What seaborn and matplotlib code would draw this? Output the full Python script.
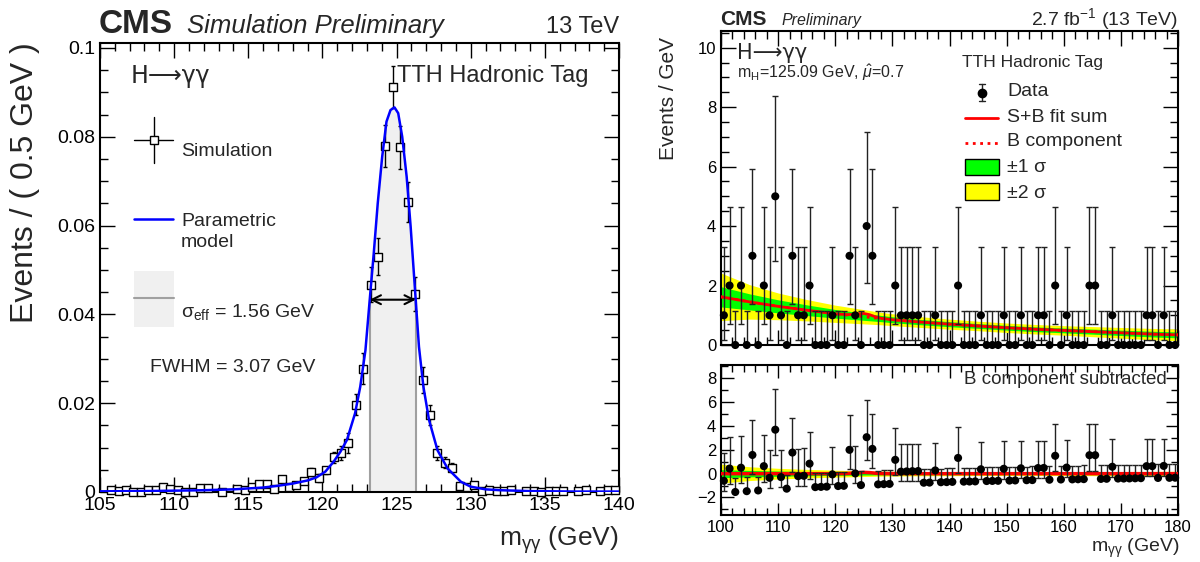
import numpy as np
import matplotlib
matplotlib.use('Agg')
import matplotlib.pyplot as plt
import seaborn as sns
from matplotlib.lines import Line2D
from matplotlib.patches import Rectangle

# ---------------- left: simulated signal shape (0.5 GeV bins) ----------------
sim_mass = np.arange(105.25, 140.0, 0.5)
sim_events = [np.nan, .0004, .0002, .0005, .0001, .0001, .0004, .0005, .0012, .0006,
              .0005, .0001, .0001, .0010, .0008, np.nan, .0000, np.nan, .0007, .0005,
              .0011, .0018, .0017, .0006, .0030, .0011, .0016, .0024, .0045, .0032,
              .0049, .0078, .0088, .0110, .0197, .0278, .0467, .0530, .0779, .0912,
              .0776, .0654, .0446, .0252, .0173, .0087, .0066, .0055, .0013, .0011,
              .0015, .0002, .0005, .0002, .0002, .0004, np.nan, .0002, .0002, .0000,
              .0002, .0002, .0002, np.nan, .0002, .0004, np.nan, .0002, .0004, .0004]
sim_err = [np.nan, .0003, .0002, .0003, .0002, .0002, .0003, .0003, .0005, .0003,
           .0003, .0002, .0002, .0004, .0004, np.nan, .0002, np.nan, .0004, .0003,
           .0004, .0005, .0005, .0003, .0006, .0004, .0005, .0006, .0008, .0009,
           .0008, .0012, .0015, .0023, .0023, .0034, .0040, .0041, .0047, .0048,
           .0048, .0045, .0039, .0030, .0022, .0016, .0012, .0010, .0005, .0004,
           .0005, .0002, .0003, .0002, .0002, .0003, np.nan, .0002, .0002, .0002,
           .0002, .0002, .0002, np.nan, .0002, .0003, np.nan, .0002, .0003, .0003]

# parametric model
model_mass = [105, 108, 110, 112, 114, 115, 116, 117, 118, 119, 119.6, 120.2, 120.75,
              121.2, 121.65, 122.2, 122.55, 122.9, 123.19, 123.46, 123.73, 124.03,
              124.32, 124.59, 124.86, 125.11, 125.38, 125.68, 125.95, 126.29, 126.51,
              126.81, 127.19, 127.76, 128.44, 129.34, 130.0, 131, 132, 134, 137, 140]
model_pdf = [0.00015, 0.0002, 0.0003, 0.0004, 0.0006, 0.0008, 0.0010, 0.0014, 0.0019,
             0.0026, 0.0033, 0.0046, 0.0068, 0.0090, 0.0117, 0.0177, 0.0237, 0.0319,
             0.0433, 0.0537, 0.0650, 0.0755, 0.0834, 0.0860, 0.0866, 0.0853, 0.0800,
             0.0710, 0.0597, 0.0433, 0.0327, 0.0237, 0.0162, 0.0094, 0.0053, 0.0023,
             0.0012, 0.0006, 0.0004, 0.0002, 0.0001, 0.0001]
seff_lo, seff_hi = 123.19, 126.29
half_max = 0.0433

# ---------------- right: data, 1 GeV bins ----------------
data_mass = np.arange(100.5, 180.0, 1.0)
data_counts = [1, 2, 0, 2, 0, 3, 0, 2, 1, 5,
               1, 0, 3, 1, 1, 2, 0, 0, 0, 1,
               0, 0, 3, 1, 0, 4, 3, 0, 0, 0,
               2, 1, 1, 1, 1, 0, 0, 1, 0, 0,
               0, 2, 0, 0, 0, 1, 0, 0, 0, 1,
               0, 0, 1, 0, 0, 1, 1, 0, 2, 0,
               1, 0, 0, 0, 2, 2, 0, 0, 1, 0,
               0, 0, 0, 0, 1, 1, 0, 1, 0, 0]
# data minus B component, read from the lower pad
data_minus_b = [-0.60, 0.43, -1.54, 0.50, -1.47, 1.57, -1.41, 0.63, -0.35, 3.69,
                -0.29, -1.26, 1.77, -0.21, -0.18, 0.84, -1.13, -1.11, -1.09, -0.06,
                -1.04, -1.02, 2.00, 0.02, -0.96, 3.06, 2.08, -0.90, -0.88, -0.86,
                1.16, 0.17, 0.19, 0.21, 0.22, -0.76, -0.75, 0.27, -0.72, -0.71,
                -0.69, 1.32, -0.67, -0.66, -0.65, 0.37, -0.62, -0.61, -0.60, 0.41,
                -0.58, -0.57, 0.45, -0.55, -0.54, 0.47, 0.48, -0.51, 1.50, -0.49,
                0.51, -0.48, -0.47, -0.46, 1.55, 1.55, -0.44, -0.43, 0.58, -0.41,
                -0.41, -0.40, -0.39, -0.38, 0.63, 0.63, -0.36, 0.65, -0.35, -0.34]
# Poisson interval edges for n = 0..5 (as drawn)
pois_lo = [0.0, 0.173, 0.708, 1.367, 2.086, 2.840]
pois_hi = [1.148, 3.300, 4.638, 5.918, 7.163, 8.382]

fit_mass = [100, 105, 110, 115, 120, 122, 123, 124, 125, 126, 127, 128, 130,
            135, 140, 145, 150, 155, 160, 165, 170, 175, 180]
bkg_fit = [1.62, 1.45, 1.30, 1.17, 1.05, 1.01, 0.99, 0.97, 0.95, 0.93, 0.91, 0.89, 0.85,
           0.77, 0.70, 0.64, 0.58, 0.53, 0.49, 0.45, 0.41, 0.37, 0.34]
sig_fit = [0, 0, 0, 0, 0, 0.01, 0.04, 0.08, 0.11, 0.09, 0.04, 0.01, 0,
           0, 0, 0, 0, 0, 0, 0, 0, 0, 0]
band_1s = [0.34, 0.27, 0.22, 0.18, 0.145, 0.135, 0.13, 0.125, 0.12, 0.115, 0.11, 0.105, 0.10,
           0.09, 0.085, 0.08, 0.08, 0.08, 0.08, 0.085, 0.09, 0.095, 0.10]
band_2s = [0.80, 0.58, 0.45, 0.36, 0.29, 0.27, 0.26, 0.25, 0.24, 0.23, 0.22, 0.21, 0.20,
           0.18, 0.17, 0.16, 0.16, 0.16, 0.16, 0.17, 0.18, 0.19, 0.20]

# ---------------- style ----------------
sns.set_theme(style='ticks')
plt.rcParams['font.family'] = ['Liberation Sans', 'DejaVu Sans']
plt.rcParams['mathtext.fontset'] = 'custom'
plt.rcParams['mathtext.rm'] = 'Liberation Sans'
plt.rcParams['mathtext.it'] = 'Liberation Sans:italic'
plt.rcParams['mathtext.bf'] = 'Liberation Sans:bold'
plt.rcParams['axes.linewidth'] = 1.5
plt.rcParams['axes.edgecolor'] = 'black'

W, H = 1200, 562
fig = plt.figure(figsize=(12, 5.62), dpi=100)
ARROW_FONT = ['DejaVu Sans', 'Liberation Sans']


def fx(px):
    return px / W


def fy(py):
    return 1 - py / H


def root_ticks(ax, size, major=9, minor=5):
    ax.tick_params(which='both', direction='in', top=True, right=True,
                   colors='black', labelsize=size, width=1)
    ax.tick_params(which='major', length=major)
    ax.tick_params(which='minor', length=minor)


ax_sim = fig.add_axes([fx(100), fy(492), (619 - 100) / W, (492 - 43) / H])
ax_top = fig.add_axes([fx(721), fy(345), (1178 - 721) / W, (345 - 31) / H])
ax_res = fig.add_axes([fx(721), fy(515), (1178 - 721) / W, (515 - 365) / H])

# ---------------- left panel ----------------
mm = np.array(model_mass)
mp = np.array(model_pdf)
ax_sim.fill_between(mm, 0, mp, where=(mm >= seff_lo) & (mm <= seff_hi),
                    color='#f0f0f0', lw=0, zorder=1)
ax_sim.vlines([seff_lo, seff_hi], 0, half_max, color='#a0a0a0', lw=1.5, zorder=2)
ax_sim.errorbar(sim_mass, sim_events, yerr=sim_err, fmt='none', ecolor='black',
                elinewidth=1, capsize=1.5, capthick=1, zorder=3)
sns.scatterplot(x=sim_mass, y=sim_events, marker='s', s=30, color='white',
                edgecolor='black', linewidth=1, ax=ax_sim, zorder=4, clip_on=False)
sns.lineplot(x=model_mass, y=model_pdf, color='#0000ff', lw=1.8, ax=ax_sim, zorder=5,
             sort=False)
ax_sim.annotate('', xy=(seff_hi, half_max), xytext=(seff_lo, half_max),
                arrowprops=dict(arrowstyle='<->', lw=1.5, color='black',
                                mutation_scale=16, shrinkA=0, shrinkB=0), zorder=6)
ax_sim.set_xlim(105, 140)
ax_sim.set_ylim(0, 0.1011)
ax_sim.set_xticks(np.arange(105, 141, 5))
ax_sim.set_xticks(np.arange(105, 141, 1), minor=True)
ax_sim.set_yticks([0, 0.02, 0.04, 0.06, 0.08, 0.1])
ax_sim.set_yticklabels(['0', '0.02', '0.04', '0.06', '0.08', '0.1'])
ax_sim.set_yticks(np.arange(0, 0.1, 0.005), minor=True)
root_ticks(ax_sim, 14, major=11, minor=6)
ax_sim.set_xlabel('')
ax_sim.set_ylabel('')

# legend-like annotations (left)
fig.add_artist(Line2D([fx(134), fx(173)], [fy(140), fy(140)], color='black', lw=1,
                      transform=fig.transFigure))
fig.add_artist(Line2D([fx(153.5), fx(153.5)], [fy(117), fy(163)], color='black', lw=1,
                      transform=fig.transFigure))
fig.add_artist(Line2D([fx(153.5)], [fy(140)], marker='s', ms=5.5, mfc='white', mec='black',
                      mew=1, transform=fig.transFigure))
fig.text(fx(181), fy(152), 'Simulation', fontsize=14, va='center')
fig.add_artist(Line2D([fx(134), fx(173)], [fy(219), fy(219)], color='#0000ff', lw=1.8,
                      transform=fig.transFigure))
fig.text(fx(181), fy(222), 'Parametric', fontsize=14, va='center')
fig.text(fx(181), fy(242), 'model', fontsize=14, va='center')
fig.add_artist(Rectangle((fx(134), fy(327)), (174 - 134) / W, (327 - 271) / H,
                         facecolor='#f0f0f0', edgecolor='none', transform=fig.transFigure))
fig.add_artist(Line2D([fx(134), fx(174)], [fy(298), fy(298)], color='#a0a0a0', lw=1.5,
                      transform=fig.transFigure))
fig.text(fx(181), fy(312), r'σ$_{\mathrm{eff}}$ = 1.56 GeV', fontsize=14, va='center')
fig.text(fx(150), fy(367), 'FWHM = 3.07 GeV', fontsize=14, va='center')
fig.text(fx(131), fy(76), 'H⟶γγ', fontsize=17, va='center', family=ARROW_FONT)
fig.text(fx(397), fy(76), 'TTH Hadronic Tag', fontsize=17, va='center')

fig.text(fx(99), fy(33), 'CMS', fontsize=24, fontweight='bold', va='baseline')
fig.text(fx(187), fy(33), 'Simulation Preliminary', fontsize=18.5, style='italic',
         va='baseline')
fig.text(fx(619), fy(33), '13 TeV', fontsize=17, ha='right', va='baseline')
fig.text(fx(25), fy(42), 'Events / ( 0.5 GeV )', fontsize=23, rotation=90,
         ha='center', va='top')
fig.text(fx(619), fy(540), r'm$_{\mathrm{\gamma\gamma}}$ (GeV)', fontsize=19,
         ha='right', va='center')

# ---------------- right top panel ----------------
bkg = np.array(bkg_fit)
sb_fit = bkg + np.array(sig_fit)
e1 = np.array(band_1s)
e2 = np.array(band_2s)
ax_top.fill_between(fit_mass, bkg - e2, bkg + e2, color='#ffff00', lw=0, zorder=1)
ax_top.fill_between(fit_mass, bkg - e1, bkg + e1, color='#00ff00', lw=0, zorder=2)
sns.lineplot(x=fit_mass, y=bkg_fit, color='#ff0000', lw=2, linestyle=':', ax=ax_top,
             zorder=3)
sns.lineplot(x=fit_mass, y=sb_fit, color='#ff0000', lw=2, ax=ax_top, zorder=3)

counts = np.array(data_counts)
err_dn = counts - np.array(pois_lo)[counts]
err_up = np.array(pois_hi)[counts] - counts
ax_top.errorbar(data_mass, counts, yerr=[err_dn, err_up], fmt='none', ecolor='#222222',
                elinewidth=1, capsize=2.2, capthick=1, zorder=4, clip_on=False)
sns.scatterplot(x=data_mass, y=counts, color='black', s=34, edgecolor='none',
                ax=ax_top, zorder=5, clip_on=False)
ax_top.set_xlim(100, 180)
ax_top.set_ylim(0, 10.56)
ax_top.set_xticks(np.arange(100, 181, 10))
ax_top.set_xticks(np.arange(100, 181, 2), minor=True)
ax_top.set_xticklabels([])
ax_top.set_yticks(np.arange(0, 11, 2))
ax_top.set_yticks(np.arange(0, 10.6, 0.5), minor=True)
root_ticks(ax_top, 12, major=11, minor=6)
ax_top.set_xlabel('')
ax_top.set_ylabel('')

fig.text(fx(737), fy(53), 'H⟶γγ', fontsize=15, va='center', family=ARROW_FONT)
fig.text(fx(737), fy(73), r'm$_{\mathrm{H}}$=125.09 GeV, $\hat{\mu}$=0.7', fontsize=11.5,
         va='center')
fig.text(fx(962), fy(63), 'TTH Hadronic Tag', fontsize=12.5, va='center')
# legend (right)
fig.add_artist(Line2D([fx(982), fx(982)], [fy(84), fy(101)], color='#222222', lw=1,
                      transform=fig.transFigure))
for cy in (84, 101):
    fig.add_artist(Line2D([fx(979), fx(985)], [fy(cy), fy(cy)], color='#222222', lw=1,
                          transform=fig.transFigure))
fig.add_artist(Line2D([fx(982)], [fy(92.5)], marker='o', ms=6, mfc='black', mec='black',
                      transform=fig.transFigure))
fig.text(fx(1007), fy(92), 'Data', fontsize=14, va='center')
fig.add_artist(Line2D([fx(965), fx(998)], [fy(117.5), fy(117.5)], color='#ff0000', lw=2,
                      transform=fig.transFigure))
fig.text(fx(1007), fy(117), 'S+B fit sum', fontsize=14, va='center')
fig.add_artist(Line2D([fx(965), fx(998)], [fy(142.5), fy(142.5)], color='#ff0000', lw=2,
                      linestyle=':', transform=fig.transFigure))
fig.text(fx(1007), fy(141), 'B component', fontsize=14, va='center')
fig.add_artist(Rectangle((fx(965), fy(175)), 34 / W, 16.5 / H, facecolor='#00ff00',
                         edgecolor='black', lw=1, transform=fig.transFigure))
fig.text(fx(1007), fy(167), '±1 σ', fontsize=14, va='center')
fig.add_artist(Rectangle((fx(965), fy(200)), 34 / W, 16.5 / H, facecolor='#ffff00',
                         edgecolor='black', lw=1, transform=fig.transFigure))
fig.text(fx(1007), fy(193), '±2 σ', fontsize=14, va='center')

fig.text(fx(720), fy(25), 'CMS', fontsize=15, fontweight='bold', va='baseline')
fig.text(fx(781), fy(25), 'Preliminary', fontsize=11.5, style='italic', va='baseline')
fig.text(fx(1178), fy(25), r'2.7 fb$^{-1}$ (13 TeV)', fontsize=14, ha='right',
         va='baseline')
fig.text(fx(668), fy(37), 'Events / GeV', fontsize=15, rotation=90, ha='center',
         va='top')

# ---------------- right bottom panel ----------------
sig = np.array(sig_fit)
ax_res.fill_between(fit_mass, -e2, e2, color='#ffff00', lw=0, zorder=1)
ax_res.fill_between(fit_mass, -e1, e1, color='#00ff00', lw=0, zorder=2)
sns.lineplot(x=fit_mass, y=sig_fit, color='#ff0000', lw=2.5, ax=ax_res, zorder=3)
ax_res.errorbar(data_mass, data_minus_b, yerr=[err_dn, err_up], fmt='none',
                ecolor='#222222', elinewidth=1, capsize=2.2, capthick=1, zorder=4)
sns.scatterplot(x=data_mass, y=data_minus_b, color='black', s=34, edgecolor='none',
                ax=ax_res, zorder=5, clip_on=False)
ax_res.set_xlim(100, 180)
ax_res.set_ylim(-3.47, 9.12)
ax_res.set_xticks(np.arange(100, 181, 10))
ax_res.set_xticks(np.arange(100, 181, 2), minor=True)
ax_res.set_yticks(np.arange(-2, 9, 2))
ax_res.set_yticks(np.arange(-3, 9.1, 1), minor=True)
root_ticks(ax_res, 12, major=9, minor=5)
ax_res.set_xlabel('')
ax_res.set_ylabel('')
ax_res.text(0.975, 0.9, 'B component subtracted', transform=ax_res.transAxes,
            fontsize=13.5, ha='right', va='center')
fig.text(fx(1180), fy(548), r'm$_{\mathrm{\gamma\gamma}}$ (GeV)', fontsize=14,
         ha='right', va='center')

fig.savefig('out.png', dpi=100, facecolor='white')
